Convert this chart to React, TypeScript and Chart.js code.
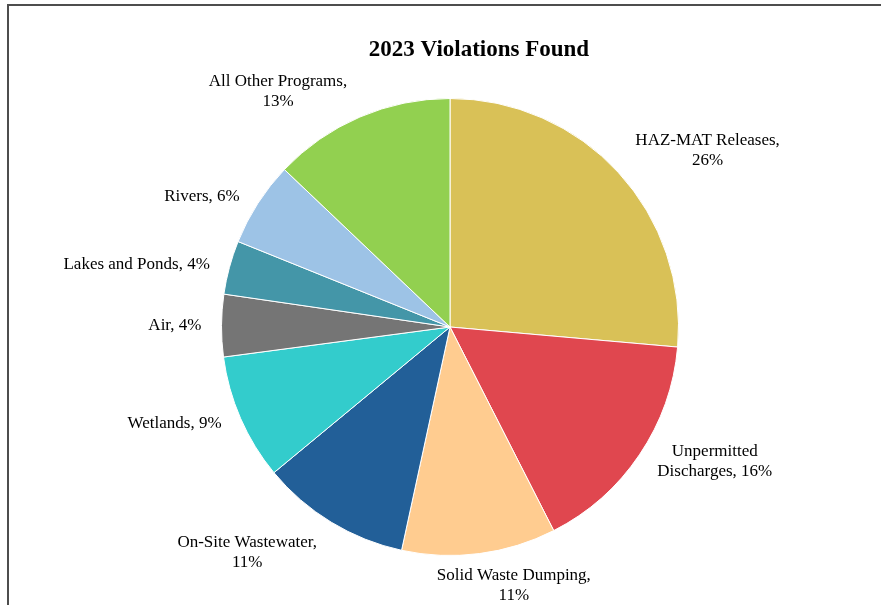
import React, { useEffect, useRef } from "react";
import { Chart, registerables } from "chart.js";

Chart.register(...registerables);

const titleText = "2023 Violations Found";
const categories = [
  "HAZ-MAT Releases",
  "Unpermitted Discharges",
  "Solid Waste Dumping",
  "On-Site Wastewater",
  "Wetlands",
  "Air",
  "Lakes and Ponds",
  "Rivers",
  "All Other Programs",
];
const shares = [26.4, 16.1, 10.9, 10.6, 8.9, 4.4, 3.8, 6.0, 12.9];
const colors = [
  "#D9C157",
  "#E0474F",
  "#FFCC90",
  "#225F98",
  "#33CCCC",
  "#757575",
  "#4496A8",
  "#9DC3E6",
  "#92D050",
];

const SERIF = "'Liberation Serif', 'Times New Roman', serif";

function wrapText(ctx: CanvasRenderingContext2D, text: string, maxW: number): string[] {
  const words = text.split(" ");
  const lines: string[] = [];
  let cur = "";
  for (const w of words) {
    const test = cur ? cur + " " + w : w;
    if (cur && ctx.measureText(test).width > maxW) {
      lines.push(cur);
      cur = w;
    } else {
      cur = test;
    }
  }
  if (cur) lines.push(cur);
  return lines;
}

const titlePlugin = {
  id: "centeredTitle",
  afterDraw(chart: any) {
    const ctx = chart.ctx as CanvasRenderingContext2D;
    ctx.save();
    ctx.font = `bold 23px ${SERIF}`;
    ctx.fillStyle = "#000";
    ctx.textAlign = "center";
    ctx.textBaseline = "middle";
    ctx.fillText(titleText, chart.width / 2, 50);
    ctx.restore();
  },
};

const outsideLabels = {
  id: "outsideLabels",
  afterDatasetsDraw(chart: any) {
    const ctx = chart.ctx as CanvasRenderingContext2D;
    const meta = chart.getDatasetMeta(0);
    const data = chart.data.datasets[0].data as number[];
    const total = data.reduce((a, b) => a + b, 0);
    ctx.save();
    ctx.font = `17px ${SERIF}`;
    ctx.fillStyle = "#000";
    ctx.textAlign = "center";
    ctx.textBaseline = "middle";
    const lineH = 20;
    meta.data.forEach((arc: any, i: number) => {
      const { x, y, startAngle, endAngle, outerRadius } = arc.getProps(
        ["x", "y", "startAngle", "endAngle", "outerRadius"],
        true
      );
      const mid = (startAngle + endAngle) / 2;
      const dx = Math.cos(mid);
      const dy = Math.sin(mid);
      const r = outerRadius + 12;
      const px = x + dx * r;
      const py = y + dy * r;
      const text = `${chart.data.labels[i]}, ${Math.round((data[i] / total) * 100)}%`;
      const lines = wrapText(ctx, text, 165);
      const w = Math.max(...lines.map((l) => ctx.measureText(l).width));
      const h = lines.length * lineH;
      const k = Math.max(-1, Math.min(1, dx / 0.3));
      const extra = Math.abs(dx) > 0.3 ? 8 * Math.sign(dx) : 0;
      const cx = px + extra + (w / 2) * k;
      const top = dy < -0.6 ? py - h * 0.85 : dy > 0.7 ? py : py - h / 2;
      lines.forEach((l, j) => ctx.fillText(l, cx, top + lineH * (j + 0.5)));
    });
    ctx.restore();
  },
};

export default function App() {
  const canvasRef = useRef<HTMLCanvasElement | null>(null);

  useEffect(() => {
    if (!canvasRef.current) return;
    const chart = new Chart(canvasRef.current, {
      type: "pie",
      data: {
        labels: categories,
        datasets: [
          {
            data: shares,
            backgroundColor: colors,
            borderColor: "#ffffff",
            borderWidth: 1,
          },
        ],
      },
      options: {
        responsive: false,
        animation: false,
        layout: { padding: { left: 100, right: 158, top: 98, bottom: 49 } },
        plugins: {
          legend: { display: false },
          title: { display: false },
          tooltip: { enabled: false },
        },
      },
      plugins: [titlePlugin, outsideLabels],
    });
    return () => chart.destroy();
  }, []);

  return (
    <div
      style={{
        position: "fixed",
        left: 0,
        top: 0,
        width: 881,
        height: 605,
        overflow: "hidden",
        background: "#ffffff",
      }}
    >
      <div
        style={{
          position: "absolute",
          left: 7,
          top: 4,
          width: 1000,
          height: 700,
          borderTop: "2px solid #4d4d4d",
          borderLeft: "2px solid #4d4d4d",
        }}
      />
      <canvas
        ref={canvasRef}
        width={958}
        height={605}
        style={{ position: "absolute", left: 0, top: 0, width: 958, height: 605 }}
      />
    </div>
  );
}
